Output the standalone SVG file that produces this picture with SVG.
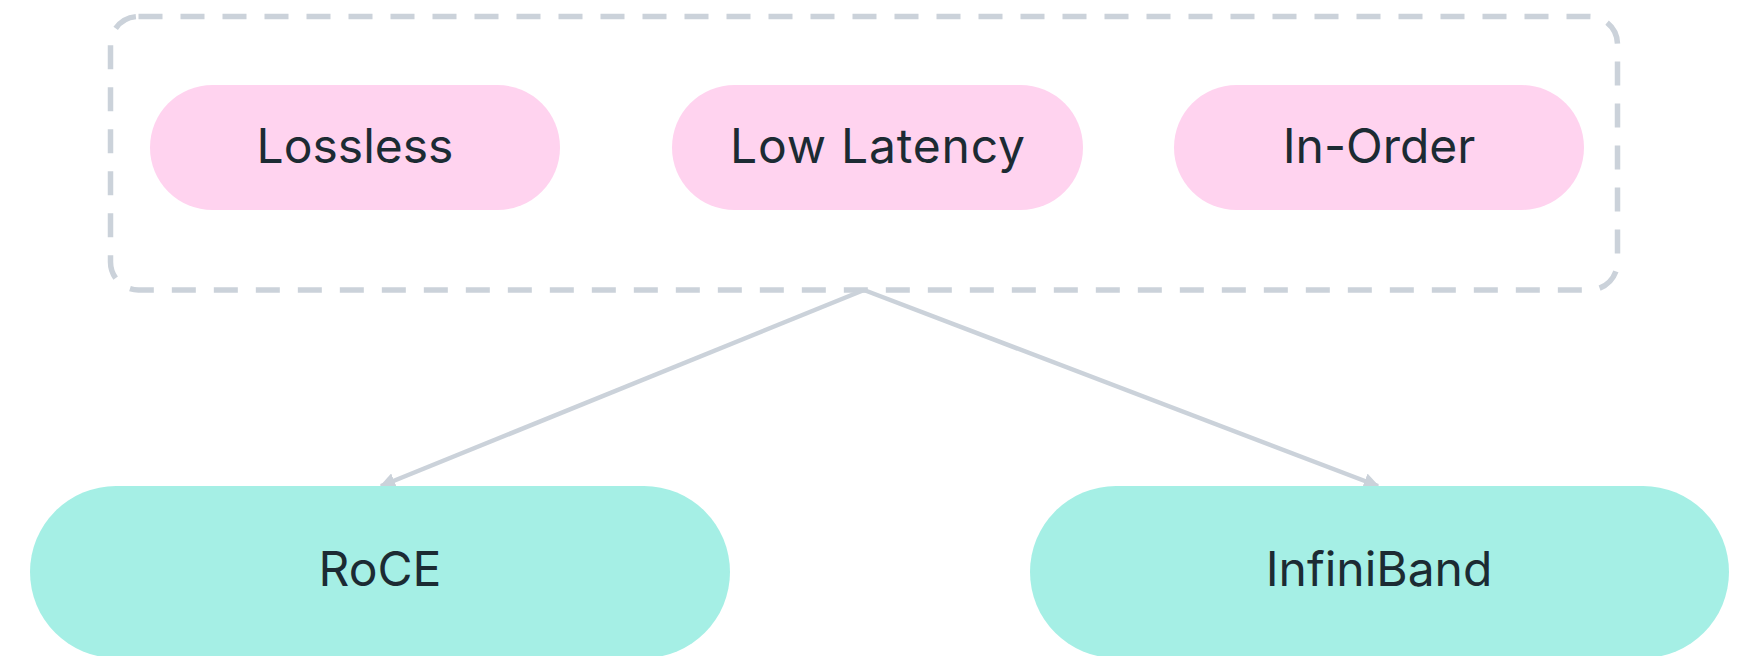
<svg xmlns="http://www.w3.org/2000/svg" width="1753" height="656" viewBox="0 0 1753 656">
  <style>
    .label { font-family: Inter, "Liberation Sans", sans-serif; font-size: 48px; fill: #1c2b33; text-anchor: middle; }
    .prop { fill: #ffd3ef; }
    .fabric { fill: #a5efe5; }
    .frame { fill: none; stroke: #cbd2da; stroke-width: 5.5; stroke-dasharray: 24 18; }
    .edge { fill: none; stroke: #cbd2da; stroke-width: 4.5; marker-end: url(#arrow); }
  </style>
  <defs>
    <marker id="arrow" viewBox="0 0 10 10" refX="9" refY="5" markerWidth="3.5" markerHeight="3.5" orient="auto" markerUnits="strokeWidth">
      <path d="M0,0 L10,5 L0,10 z" fill="#cbd2da"/>
    </marker>
  </defs>

  <rect width="1753" height="656" fill="#ffffff"/>

  <!-- requirements group -->
  <g id="requirements">
    <rect class="frame" x="110.5" y="16.5" width="1507" height="273.5" rx="28" ry="28"/>
  </g>

  <g id="lossless">
    <rect class="prop" x="150" y="85" width="410" height="125" rx="62.5"/>
    <text class="label" x="355" y="163">Lossless</text>
  </g>
  <g id="low-latency">
    <rect class="prop" x="672" y="85" width="411" height="125" rx="62.5"/>
    <text class="label" x="877.5" y="163" textLength="295" lengthAdjust="spacing">Low Latency</text>
  </g>
  <g id="in-order">
    <rect class="prop" x="1174" y="85" width="410" height="125" rx="62.5"/>
    <text class="label" x="1379" y="163">In-Order</text>
  </g>

  <!-- connectors -->
  <g id="connectors">
    <path class="edge" d="M864,290 L381,486"/>
    <path class="edge" d="M864,290 L1378,486"/>
  </g>

  <g id="roce">
    <rect class="fabric" x="30" y="486" width="700" height="172" rx="86"/>
    <text class="label" x="380" y="586">RoCE</text>
  </g>
  <g id="infiniband">
    <rect class="fabric" x="1030" y="486" width="699" height="172" rx="86"/>
    <text class="label" x="1379" y="586">InfiniBand</text>
  </g>
</svg>
